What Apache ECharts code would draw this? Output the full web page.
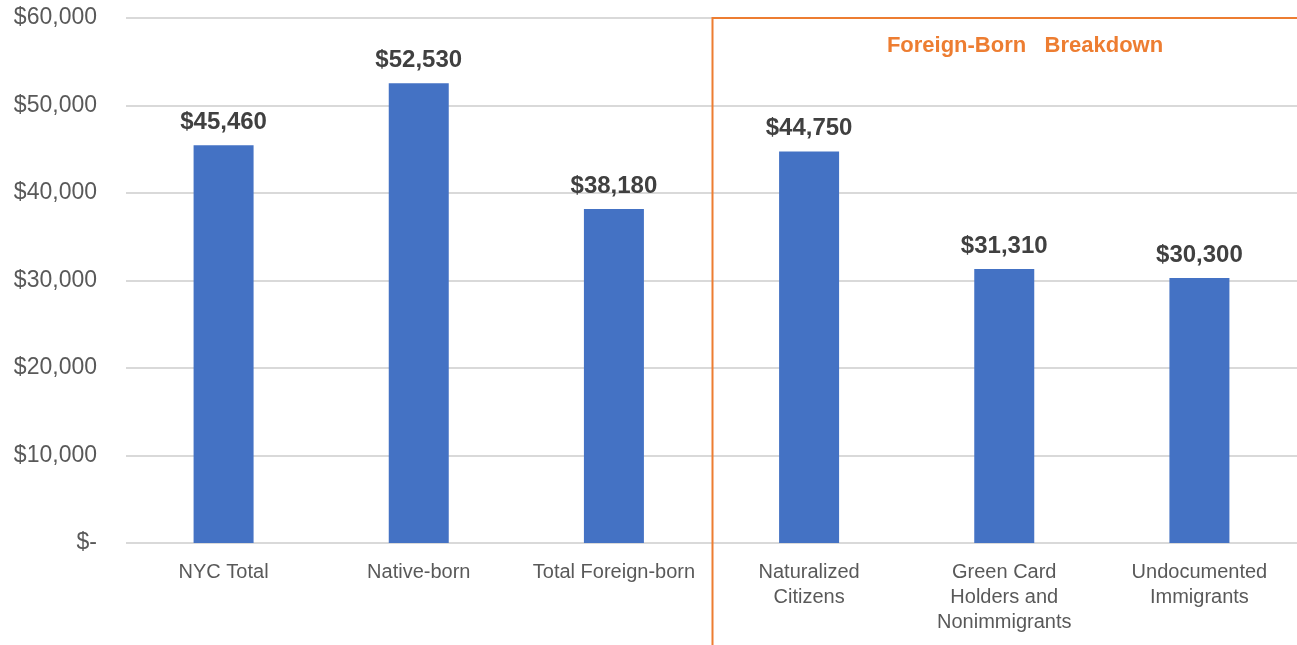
<!DOCTYPE html>
<html>
<head>
<meta charset="utf-8">
<script src="https://cdn.jsdelivr.net/npm/echarts@6/dist/echarts.min.js"></script>
<style>
  html, body { margin: 0; padding: 0; background: #fff; }
  #main { width: 1297px; height: 645px; }
</style>
</head>
<body>
<div id="main"></div>
<script>
const categories = ['NYC Total', 'Native-born', 'Total Foreign-born', 'Naturalized\nCitizens', 'Green Card\nHolders and\nNonimmigrants', 'Undocumented\nImmigrants'];
const income = [45460, 52530, 38180, 44750, 31310, 30300];
const yTicks = { min: 0, max: 60000, interval: 10000 };

const chart = echarts.init(document.getElementById('main'));

const fmtMoney = v => v === 0 ? '$-' : '$' + v.toLocaleString('en-US');

chart.setOption({
    animation: false,
    textStyle: { fontFamily: 'Liberation Sans, Arial, sans-serif' },
    grid: { left: 126, right: -8, top: 18, bottom: 102 },
    xAxis: {
        type: 'category',
        data: categories,
        axisTick: { show: false },
        axisLine: { show: false },
        axisLabel: { color: '#595959', fontSize: 20, lineHeight: 25, margin: 17, interval: 0 }
    },
    yAxis: {
        type: 'value',
        min: yTicks.min,
        max: yTicks.max,
        interval: yTicks.interval,
        axisLabel: { color: '#595959', fontSize: 23, margin: 29, formatter: fmtMoney },
        splitLine: { lineStyle: { color: '#d9d9d9', width: 2 } }
    },
    series: [{
        type: 'bar',
        data: income,
        barWidth: 60,
        itemStyle: { color: '#4472C4' },
        label: {
            show: true,
            position: 'top',
            distance: 11,
            color: '#404040',
            fontSize: 24,
            fontWeight: 'bold',
            formatter: p => fmtMoney(p.value)
        }
    }]
});

// orange bracket marking the foreign-born breakdown
const x2 = chart.convertToPixel({ xAxisIndex: 0 }, 2);
const x3 = chart.convertToPixel({ xAxisIndex: 0 }, 3);
const xs = Math.round((x2 + x3) / 2) + 0.5;
const yTop = chart.convertToPixel({ yAxisIndex: 0 }, 60000);
chart.setOption({
    graphic: [
        {
            type: 'polyline',
            shape: { points: [[xs, 645], [xs, yTop], [1297, yTop]] },
            style: { stroke: '#ED7D31', lineWidth: 2, fill: null },
            z: 10
        },
        {
            type: 'text',
            x: 1025,
            y: 46,
            style: {
                text: 'Foreign-Born   Breakdown',
                fill: '#ED7D31',
                font: 'bold 22px Liberation Sans, Arial, sans-serif',
                align: 'center',
                verticalAlign: 'middle'
            }
        }
    ]
});
</script>
</body>
</html>
